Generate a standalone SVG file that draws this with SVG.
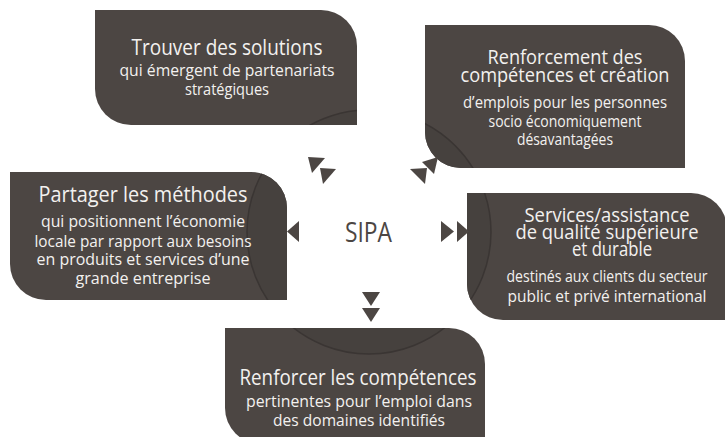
<svg xmlns="http://www.w3.org/2000/svg" xmlns:xlink="http://www.w3.org/1999/xlink" width="725" height="437" viewBox="0 0 725 437">
<defs>
<style>
.box{fill:#4c4643}
.ring{fill:#46413e;stroke:#3a3533;stroke-width:1.5}
.t{font-family:"Open Sans","Noto Sans","Liberation Sans",sans-serif;fill:#f3f1ef;text-anchor:middle}
.h{font-size:22px}
.h2{font-size:20px}
.s{font-size:17px}
.arr{fill:#4c4643}
.sipa{font-family:"Open Sans","Noto Sans","Liberation Sans",sans-serif;font-size:28px;fill:#4c4643;text-anchor:middle}
</style>
<path id="b1" d="M95,10 H321 A36,36 0 0 1 357,46 V125 H131 A36,36 0 0 1 95,89 Z"/>
<path id="b2" d="M425,25 H649 A36,36 0 0 1 685,61 V168 H461 A36,36 0 0 1 425,132 Z"/>
<path id="b3" d="M10,172 H251 A36,36 0 0 1 287,208 V300 H46 A36,36 0 0 1 10,264 Z"/>
<path id="b4" d="M467,193 H691 A36,36 0 0 1 727,229 V320 H503 A36,36 0 0 1 467,284 Z"/>
<path id="b5" d="M225,328 H449 A36,36 0 0 1 485,364 V444 H261 A36,36 0 0 1 225,408 Z"/>
<clipPath id="c1"><use xlink:href="#b1"/></clipPath>
<clipPath id="c2"><use xlink:href="#b2"/></clipPath>
<clipPath id="c3"><use xlink:href="#b3"/></clipPath>
<clipPath id="c4"><use xlink:href="#b4"/></clipPath>
<clipPath id="c5"><use xlink:href="#b5"/></clipPath>
</defs>
<rect width="725" height="437" fill="#ffffff"/>

<g id="node-solutions">
<use xlink:href="#b1" class="box"/>
<circle cx="369" cy="232" r="122" class="ring" clip-path="url(#c1)"/>
<text class="t h" x="227" y="55" textLength="191" lengthAdjust="spacingAndGlyphs">Trouver des solutions</text>
<text class="t s" x="227" y="76" textLength="215" lengthAdjust="spacingAndGlyphs">qui émergent de partenariats</text>
<text class="t s" x="227" y="95" textLength="84" lengthAdjust="spacingAndGlyphs">stratégiques</text>
</g>

<g id="node-renforcement">
<use xlink:href="#b2" class="box"/>
<circle cx="369" cy="232" r="122" class="ring" clip-path="url(#c2)"/>
<text class="t h2" x="565" y="64" textLength="155" lengthAdjust="spacingAndGlyphs">Renforcement des</text>
<text class="t h2" x="565" y="82" textLength="209" lengthAdjust="spacingAndGlyphs">compétences et création</text>
<text class="t s" x="565" y="108" textLength="204" lengthAdjust="spacingAndGlyphs">d’emplois pour les personnes</text>
<text class="t s" x="565" y="127" textLength="153" lengthAdjust="spacingAndGlyphs">socio économiquement</text>
<text class="t s" x="565" y="145" textLength="96" lengthAdjust="spacingAndGlyphs">désavantagées</text>
</g>

<g id="node-partager">
<use xlink:href="#b3" class="box"/>
<circle cx="369" cy="232" r="122" class="ring" clip-path="url(#c3)"/>
<text class="t h" x="143" y="202" textLength="209" lengthAdjust="spacingAndGlyphs">Partager les méthodes</text>
<text class="t s" x="143" y="227" textLength="204" lengthAdjust="spacingAndGlyphs">qui positionnent l’économie</text>
<text class="t s" x="143" y="247" textLength="217" lengthAdjust="spacingAndGlyphs">locale par rapport aux besoins</text>
<text class="t s" x="143" y="265" textLength="213" lengthAdjust="spacingAndGlyphs">en produits et services d’une</text>
<text class="t s" x="143" y="284" textLength="135" lengthAdjust="spacingAndGlyphs">grande entreprise</text>
</g>

<g id="node-services">
<use xlink:href="#b4" class="box"/>
<circle cx="369" cy="232" r="122" class="ring" clip-path="url(#c4)"/>
<text class="t h2" x="607" y="222" textLength="165" lengthAdjust="spacingAndGlyphs">Services/assistance</text>
<text class="t h2" x="607" y="239" textLength="183" lengthAdjust="spacingAndGlyphs">de qualité supérieure</text>
<text class="t h2" x="612" y="256" textLength="80" lengthAdjust="spacingAndGlyphs">et durable</text>
<text class="t s" x="607" y="282" textLength="201" lengthAdjust="spacingAndGlyphs">destinés aux clients du secteur</text>
<text class="t s" x="607" y="302" textLength="199" lengthAdjust="spacingAndGlyphs">public et privé international</text>
</g>

<g id="node-competences">
<use xlink:href="#b5" class="box"/>
<circle cx="369" cy="232" r="122" class="ring" clip-path="url(#c5)"/>
<text class="t h" x="358" y="385" textLength="237" lengthAdjust="spacingAndGlyphs">Renforcer les compétences</text>
<text class="t s" x="359" y="407" textLength="226" lengthAdjust="spacingAndGlyphs">pertinentes pour l’emploi dans</text>
<text class="t s" x="359" y="426" textLength="172" lengthAdjust="spacingAndGlyphs">des domaines identifiés</text>
</g>

<g id="node-sipa">
<text class="sipa" x="368.5" y="242" textLength="47" lengthAdjust="spacingAndGlyphs">SIPA</text>
</g>

<g id="connectors">
<polygon class="arr" points="308,157 325,158 312,173"/>
<polygon class="arr" points="320,168 336,169 323,184"/>
<polygon class="arr" points="438,157 422,162 434,174"/>
<polygon class="arr" points="427,168 410,169 425,184"/>
<polygon class="arr" points="287,231.5 299,221 299,242"/>
<polygon class="arr" points="441,221 441,242 454,231.5"/>
<polygon class="arr" points="457,221 457,242 469,231.5"/>
<polygon class="arr" points="362,292 380,292 371,306"/>
<polygon class="arr" points="362,308 380,308 371,322"/>
</g>
</svg>
